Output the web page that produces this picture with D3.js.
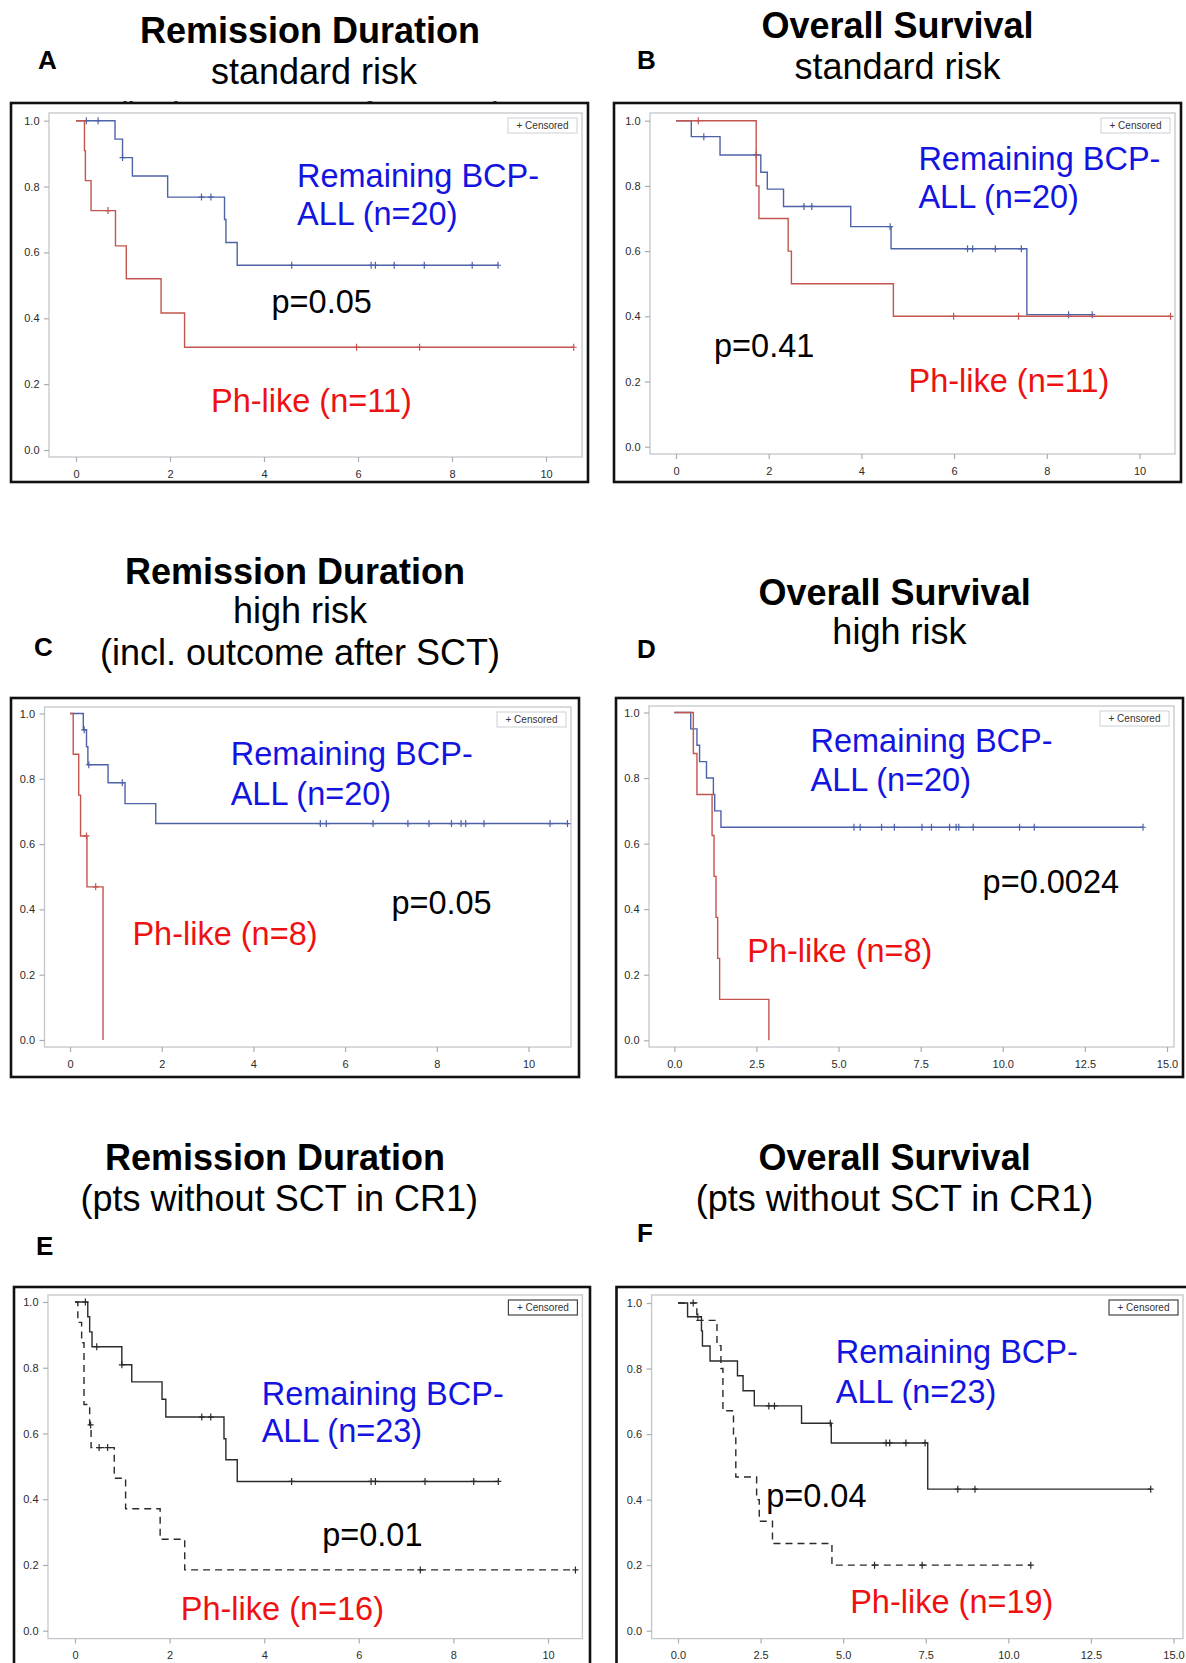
<!DOCTYPE html>
<html>
<head>
<meta charset="utf-8">
<script src="https://cdn.jsdelivr.net/npm/d3@7"></script>
<style>
  body { margin: 0; background: #fff; }
  svg { display: block; font-family: 'Liberation Sans', Arial, sans-serif; }
</style>
</head>
<body>
<svg id="fig" width="1186" height="1663"></svg>
<script>
// ---- tick values ----
const yTicks = [0, 0.2, 0.4, 0.6, 0.8, 1.0]
const xTicks10 = [0, 2, 4, 6, 8, 10]
const xTicks15 = [0, 2.5, 5, 7.5, 10, 12.5, 15]

// ---- Kaplan-Meier steps [time, survival] and censor times ----
// A: remission duration, standard risk
const stepsA_bcp = [[0, 1], [0.83, 0.944], [0.99, 0.888], [1.2, 0.832], [1.95, 0.768], [3.16, 0.70], [3.19, 0.63], [3.43, 0.561]]
const censA_bcp = [0.22, 0.47, 0.99, 2.67, 2.87, 4.59, 6.28, 6.37, 6.77, 7.41, 8.43, 8.98]
const stepsA_ph = [[0, 1], [0.18, 0.909], [0.2, 0.818], [0.32, 0.727], [0.84, 0.62], [1.07, 0.52], [1.81, 0.416], [2.31, 0.312]]
const censA_ph = [0.68, 5.97, 7.31, 10.59]

// B: overall survival, standard risk
const stepsB_bcp = [[0, 1], [0.33, 0.951], [0.95, 0.895], [1.83, 0.842], [1.97, 0.79], [2.32, 0.737], [3.77, 0.675], [4.64, 0.607], [7.57, 0.405]]
const censB_bcp = [0.6, 1.73, 2.76, 2.93, 4.62, 6.29, 6.4, 6.89, 7.45, 8.47, 8.98]
const stepsB_ph = [[0, 1], [1.73, 0.8], [1.79, 0.7], [2.42, 0.6], [2.49, 0.5], [4.69, 0.4]]
const censB_ph = [0.48, 5.99, 7.39, 10.67]

// C: remission duration, high risk
const stepsC_bcp = [[0, 1], [0.29, 0.95], [0.36, 0.898], [0.39, 0.843], [0.83, 0.788], [1.2, 0.724], [1.87, 0.663]]
const censC_bcp = [0.31, 0.41, 1.14, 5.46, 5.59, 6.61, 7.37, 7.83, 8.32, 8.53, 8.63, 9.03, 10.47, 10.85]
const stepsC_ph = [[0, 1], [0.07, 0.875], [0.19, 0.75], [0.23, 0.625], [0.37, 0.469], [0.72, 0]]
const censC_ph = [0.36, 0.56]

// D: overall survival, high risk
const stepsD_bcp = [[0, 1], [0.5, 0.95], [0.69, 0.9], [0.77, 0.85], [0.98, 0.8], [1.19, 0.75], [1.23, 0.7], [1.42, 0.65]]
const censD_bcp = [5.47, 5.66, 6.31, 6.7, 7.54, 7.83, 8.38, 8.58, 8.66, 9.1, 10.51, 10.96, 14.27]
const stepsD_ph = [[0, 1], [0.58, 0.875], [0.69, 0.75], [1.15, 0.625], [1.21, 0.5], [1.27, 0.375], [1.32, 0.25], [1.38, 0.125], [2.88, 0]]
const censD_ph = []

// E: remission duration, pts without SCT in CR1
const stepsE_bcp = [[0, 1], [0.27, 0.955], [0.31, 0.909], [0.36, 0.864], [0.99, 0.809], [1.2, 0.757], [1.84, 0.704], [1.92, 0.65], [3.15, 0.584], [3.19, 0.52], [3.43, 0.454]]
const censE_bcp = [0.22, 0.46, 0.99, 2.68, 2.87, 4.58, 6.26, 6.35, 7.4, 8.43, 8.95]
const stepsE_ph = [[0, 1], [0.06, 0.938], [0.14, 0.876], [0.19, 0.688], [0.31, 0.626], [0.34, 0.557], [0.83, 0.464], [1.07, 0.371], [1.8, 0.278], [2.32, 0.185]]
const censE_ph = [0.33, 0.51, 0.69, 7.3, 10.58]

// F: overall survival, pts without SCT in CR1
const stepsF_bcp = [[0, 1], [0.29, 0.958], [0.71, 0.915], [0.74, 0.869], [0.97, 0.823], [1.8, 0.778], [1.97, 0.732], [2.31, 0.686], [3.74, 0.633], [4.64, 0.573], [7.56, 0.432]]
const censF_bcp = [0.6, 2.75, 2.92, 4.61, 6.3, 6.41, 6.9, 7.48, 8.47, 8.99, 14.31]
const stepsF_ph = [[0, 1], [0.57, 0.947], [1.18, 0.87], [1.3, 0.8], [1.36, 0.671], [1.68, 0.6], [1.75, 0.469], [2.38, 0.4], [2.46, 0.334], [2.86, 0.266], [4.66, 0.2]]
const censF_ph = [0.46, 5.95, 7.39, 10.68]

// ---- colours ----
const curveBlue = '#4e62a8'
const curveRed = '#c4544e'
const textBlue = '#1414e0'
const textRed = '#ee1111'

// ---- panel layout (pixel positions) ----
const panels = [
  {
    letter: 'A', letterPos: [38, 69],
    titles: [['Remission Duration', 310, 42.5, true], ['standard risk', 314, 84, false]],
    frame: [11, 103, 588, 482], inner: [49, 113, 582, 457],
    xRange: [76, 546], yRange: [450, 120.7], xTicks: xTicks10, xFmt: d3.format('d'),
    curves: [
      { steps: stepsA_bcp, cens: censA_bcp, color: curveBlue },
      { steps: stepsA_ph, cens: censA_ph, color: curveRed }
    ],
    labels: [
      ['Remaining BCP-', 297, 186.7, textBlue], ['ALL (n=20)', 297, 225, textBlue],
      ['p=0.05', 271.5, 313.3, '#000'], ['Ph-like (n=11)', 211, 411.6, textRed]
    ],
    legendDark: false, ghost: true
  },
  {
    letter: 'B', letterPos: [637, 69],
    titles: [['Overall Survival', 897.5, 37.5, true], ['standard risk', 897.5, 79, false]],
    frame: [614, 103, 1181, 482], inner: [650, 113, 1175, 454],
    xRange: [676, 1139.5], yRange: [446.7, 120.7], xTicks: xTicks10, xFmt: d3.format('d'),
    curves: [
      { steps: stepsB_bcp, cens: censB_bcp, color: curveBlue },
      { steps: stepsB_ph, cens: censB_ph, color: curveRed }
    ],
    labels: [
      ['Remaining BCP-', 918.4, 170, textBlue], ['ALL (n=20)', 918.4, 208.3, textBlue],
      ['p=0.41', 714, 356.6, '#000'], ['Ph-like (n=11)', 908.5, 391.6, textRed]
    ],
    legendDark: false
  },
  {
    letter: 'C', letterPos: [34, 656],
    titles: [['Remission Duration', 295, 584, true], ['high risk', 300, 622.8, false], ['(incl. outcome after SCT)', 300, 664.7, false]],
    frame: [11, 698, 579, 1077], inner: [44.5, 707, 571, 1047],
    xRange: [70, 528.5], yRange: [1040, 713.5], xTicks: xTicks10, xFmt: d3.format('d'),
    curves: [
      { steps: stepsC_bcp, cens: censC_bcp, color: curveBlue },
      { steps: stepsC_ph, cens: censC_ph, color: curveRed }
    ],
    labels: [
      ['Remaining BCP-', 230.7, 765.2, textBlue], ['ALL (n=20)', 230.7, 804.5, textBlue],
      ['p=0.05', 391.4, 914.2, '#000'], ['Ph-like (n=8)', 132.4, 945.2, textRed]
    ],
    legendDark: false
  },
  {
    letter: 'D', letterPos: [637, 658],
    titles: [['Overall Survival', 894.6, 604.5, true], ['high risk', 899.4, 644, false]],
    frame: [616, 698, 1183, 1077], inner: [649, 706, 1174, 1047],
    xRange: [674.3, 1167], yRange: [1040.3, 712.5], xTicks: xTicks15, xFmt: d3.format('.1f'),
    curves: [
      { steps: stepsD_bcp, cens: censD_bcp, color: curveBlue },
      { steps: stepsD_ph, cens: censD_ph, color: curveRed }
    ],
    labels: [
      ['Remaining BCP-', 810.5, 751.8, textBlue], ['ALL (n=20)', 810.5, 791.3, textBlue],
      ['p=0.0024', 982.6, 893, '#000'], ['Ph-like (n=8)', 747.3, 962, textRed]
    ],
    legendDark: false
  },
  {
    letter: 'E', letterPos: [36, 1255],
    titles: [['Remission Duration', 275, 1170, true], ['(pts without SCT in CR1)', 279.3, 1211.3, false]],
    frame: [14, 1287, 590, 1700], inner: [48, 1295, 582.4, 1638.6],
    xRange: [75, 548], yRange: [1630.7, 1302], xTicks: xTicks10, xFmt: d3.format('d'),
    curves: [
      { steps: stepsE_bcp, cens: censE_bcp, color: '#2a2a2a' },
      { steps: stepsE_ph, cens: censE_ph, color: '#2a2a2a', dash: '7,5' }
    ],
    labels: [
      ['Remaining BCP-', 261.7, 1404.5, textBlue], ['ALL (n=23)', 261.7, 1442.3, textBlue],
      ['p=0.01', 322.2, 1545.6, '#000'], ['Ph-like (n=16)', 180.8, 1620, textRed]
    ],
    legendDark: true
  },
  {
    letter: 'F', letterPos: [637, 1242],
    titles: [['Overall Survival', 894.6, 1170, true], ['(pts without SCT in CR1)', 894.6, 1211.3, false]],
    frame: [616.5, 1287, 1200, 1700], inner: [651.6, 1295, 1183, 1638.6],
    xRange: [678, 1173.5], yRange: [1630.7, 1303], xTicks: xTicks15, xFmt: d3.format('.1f'),
    curves: [
      { steps: stepsF_bcp, cens: censF_bcp, color: '#2a2a2a' },
      { steps: stepsF_ph, cens: censF_ph, color: '#2a2a2a', dash: '7,5' }
    ],
    labels: [
      ['Remaining BCP-', 835.8, 1363.3, textBlue], ['ALL (n=23)', 835.8, 1402.7, textBlue],
      ['p=0.04', 766.2, 1507, '#000'], ['Ph-like (n=19)', 850.2, 1612.8, textRed]
    ],
    legendDark: true
  }
]

const svg = d3.select('#fig')

svg.append('rect')
  .attr('width', 1186)
  .attr('height', 1663)
  .attr('fill', '#fff')

// survival value of a step curve at time t
function survivalAt (steps, t) {
  let s = 1
  steps.forEach(function (p) {
    if (p[0] <= t) s = p[1]
  })
  return s
}

function drawPanel (p) {
  const g = svg.append('g').attr('class', 'panel-' + p.letter)

  // heading
  g.append('text')
    .attr('x', p.letterPos[0])
    .attr('y', p.letterPos[1])
    .attr('font-size', 26)
    .attr('font-weight', 'bold')
    .text(p.letter)

  p.titles.forEach(function (t) {
    g.append('text')
      .attr('x', t[1])
      .attr('y', t[2])
      .attr('text-anchor', 'middle')
      .attr('font-size', 36)
      .attr('font-weight', t[3] ? 'bold' : 'normal')
      .text(t[0])
  })

  // leftover line peeking above frame A
  if (p.ghost) {
    svg.append('clipPath')
      .attr('id', 'ghost-clip')
      .append('rect')
      .attr('x', 0).attr('y', 96).attr('width', 600).attr('height', 6)
    g.append('text')
      .attr('clip-path', 'url(#ghost-clip)')
      .attr('x', 310)
      .attr('y', 127)
      .attr('text-anchor', 'middle')
      .attr('font-size', 35)
      .attr('fill', '#333')
      .text('(incl. outcome after SCT)')
  }

  const x = d3.scaleLinear().domain([0, d3.max(p.xTicks)]).range(p.xRange)
  const y = d3.scaleLinear().domain([0, 1]).range(p.yRange)
  const [il, it, ir, ib] = p.inner

  // plot wall
  g.append('rect')
    .attr('x', il).attr('y', it)
    .attr('width', ir - il).attr('height', ib - it)
    .attr('fill', 'none')
    .attr('stroke', '#c3c7cc')
    .attr('stroke-width', 1.3)

  const yAxis = g.append('g')
    .attr('transform', 'translate(' + il + ',0)')
    .call(d3.axisLeft(y).tickValues(yTicks).tickFormat(d3.format('.1f')).tickSize(5).tickPadding(4.5))
  const xAxis = g.append('g')
    .attr('transform', 'translate(0,' + ib + ')')
    .call(d3.axisBottom(x).tickValues(p.xTicks).tickFormat(p.xFmt).tickSize(5).tickPadding(8))

  ;[yAxis, xAxis].forEach(function (a) {
    a.select('.domain').remove()
    a.selectAll('.tick line').attr('stroke', '#a9adb2').attr('stroke-width', 1.2)
    a.selectAll('.tick text')
      .attr('fill', '#2b2b2b')
      .attr('font-size', 11)
      .attr('font-family', "'Liberation Sans', Arial, sans-serif")
  })

  // legend box
  const lg = g.append('g')
    .attr('transform', 'translate(' + (ir - 74) + ',' + (it + 5) + ')')
  lg.append('rect')
    .attr('width', 69).attr('height', 15)
    .attr('fill', '#fff')
    .attr('stroke', p.legendDark ? '#444' : '#d4d7db')
    .attr('stroke-width', 1.2)
  lg.append('text')
    .attr('x', 34.5).attr('y', 11)
    .attr('text-anchor', 'middle')
    .attr('font-size', 10)
    .attr('fill', '#333')
    .text('+ Censored')

  // curves
  const line = d3.line()
    .x(function (d) { return x(d[0]) })
    .y(function (d) { return y(d[1]) })
    .curve(d3.curveStepAfter)

  p.curves.forEach(function (c) {
    const last = c.steps[c.steps.length - 1]
    const end = Math.max(last[0], d3.max(c.cens) || 0)
    const pts = c.steps.concat([[end, last[1]]])

    g.append('path')
      .datum(pts)
      .attr('d', line)
      .attr('fill', 'none')
      .attr('stroke', c.color)
      .attr('stroke-width', 1.4)
      .attr('stroke-dasharray', c.dash || null)

    g.selectAll(null)
      .data(c.cens)
      .enter()
      .append('path')
      .attr('d', function (t) {
        const cx = x(t)
        const cy = y(survivalAt(c.steps, t))
        return 'M' + cx + ',' + (cy - 3.5) + 'V' + (cy + 3.5) + 'M' + (cx - 3) + ',' + cy + 'H' + (cx + 3)
      })
      .attr('stroke', c.color)
      .attr('stroke-width', 1.2)
  })

  // in-plot annotations
  p.labels.forEach(function (l) {
    g.append('text')
      .attr('x', l[1])
      .attr('y', l[2])
      .attr('font-size', 32.5)
      .attr('fill', l[3])
      .text(l[0])
  })

  // outer frame
  const [fl, ft, fr, fb] = p.frame
  g.append('rect')
    .attr('x', fl).attr('y', ft)
    .attr('width', fr - fl).attr('height', fb - ft)
    .attr('fill', 'none')
    .attr('stroke', '#111')
    .attr('stroke-width', 2.6)
}

panels.forEach(drawPanel)
</script>
</body>
</html>
